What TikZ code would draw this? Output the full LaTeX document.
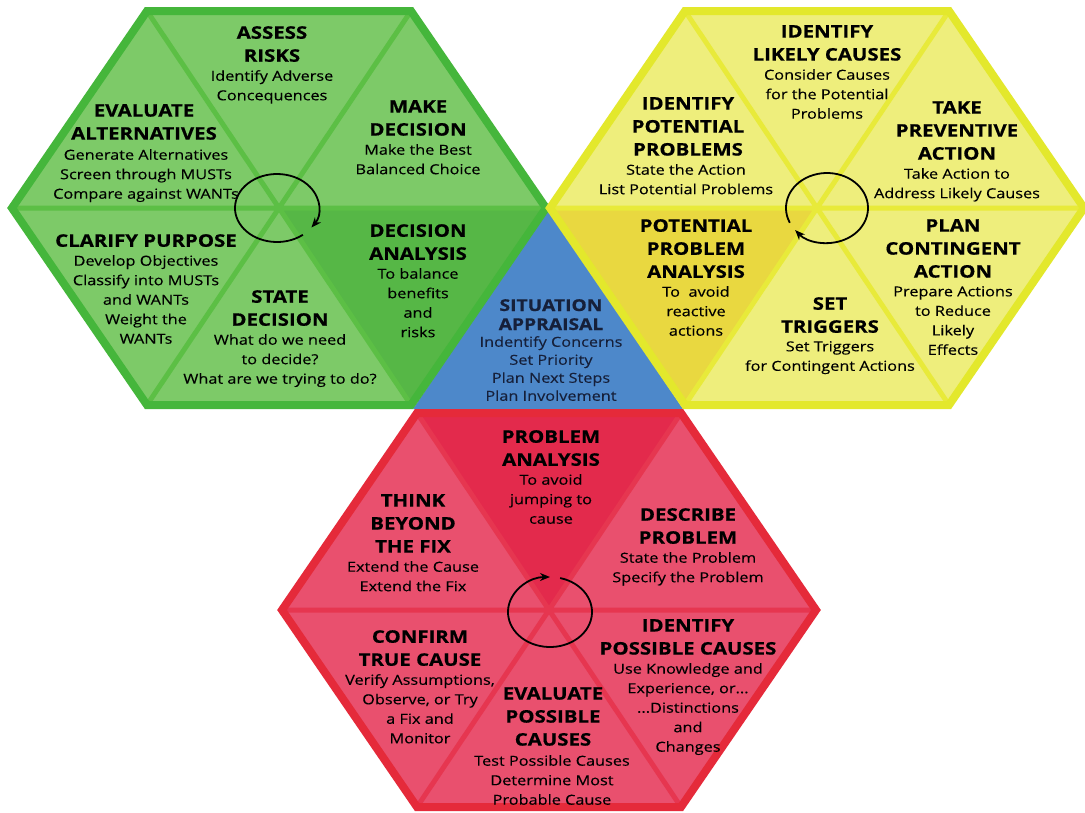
\documentclass[tikz,border=0pt]{standalone}
\usepackage{fontspec}
\setmainfont{Open Sans}[FakeStretch=1.18,FakeBold=0.25]
\newfontfamily\ttlfont{Open Sans}[FakeStretch=1.18,FakeBold=0.6]
\usetikzlibrary{arrows.meta}
\definecolor{gB}{HTML}{45B63B}
\definecolor{gL}{HTML}{7DCA68}
\definecolor{gD}{HTML}{56B746}
\definecolor{gI}{HTML}{5CBF45}
\definecolor{yB}{HTML}{E3E82C}
\definecolor{yL}{HTML}{EEEE7C}
\definecolor{yD}{HTML}{E9D840}
\definecolor{yI}{HTML}{E8EA3A}
\definecolor{rB}{HTML}{E52A3A}
\definecolor{rL}{HTML}{E9506E}
\definecolor{rD}{HTML}{E32A4C}
\definecolor{rI}{HTML}{E63650}
\definecolor{bF}{HTML}{4D88CA}
\definecolor{navy}{HTML}{16203A}
\newcommand\mkhex[3]{%
  \coordinate (#1C) at (#2,#3);
  \coordinate (#10) at ({#2+267},#3);
  \coordinate (#11) at ({#2+132},{#3-197});
  \coordinate (#12) at ({#2-132},{#3-197});
  \coordinate (#13) at ({#2-267},#3);
  \coordinate (#14) at ({#2-132},{#3+197});
  \coordinate (#15) at ({#2+132},{#3+197});
}
\tikzset{
  ttl/.style={anchor=north, align=center, inner sep=0pt, font=\ttlfont\fontsize{17.3}{23}\selectfont\bfseries},
  bdy/.style={anchor=north, align=center, inner sep=0pt, font=\fontsize{13.8}{19.5}\selectfont},
  bttl/.style={ttl, text=navy, font=\ttlfont\fontsize{16.3}{19}\selectfont\bfseries},
  bbdy/.style={bdy, text=navy, font=\fontsize{13.8}{18}\selectfont},
  divider/.style={line width=5pt},
  border/.style={line width=8pt, line join=miter},
  cyc/.style={line width=1.8pt, -{Stealth[length=10pt,width=8pt]}},
}
\begin{document}
\begin{tikzpicture}[x=1pt,y=-1pt]
\useasboundingbox[fill=white] (0,0) rectangle (1085,812);
\mkhex{g}{279}{208}
\mkhex{y}{817}{208}
\mkhex{r}{549}{610}
% blue triangle
\coordinate (bA) at (548,208);
\coordinate (bL) at (413,409);
\coordinate (bR) at (683,409);
\fill[bF] (bA)--(bL)--(bR)--cycle;
% green hexagon
\fill[gL] (g0)--(g1)--(g2)--(g3)--(g4)--(g5)--cycle;
\fill[gD] (gC)--(g0)--(g5)--cycle;
\draw[gI,divider] (g0)--(g3) (g1)--(g4) (g2)--(g5);
\draw[gB,border] (g0)--(g1)--(g2)--(g3)--(g4)--(g5)--cycle;
% yellow hexagon
\fill[yL] (y0)--(y1)--(y2)--(y3)--(y4)--(y5)--cycle;
\fill[yD] (yC)--(y3)--(y4)--cycle;
\draw[yI,divider] (y0)--(y3) (y1)--(y4) (y2)--(y5);
\draw[yB,border] (y0)--(y1)--(y2)--(y3)--(y4)--(y5)--cycle;
% red hexagon
\fill[rL] (r0)--(r1)--(r2)--(r3)--(r4)--(r5)--cycle;
\fill[rD] (rC)--(r1)--(r2)--cycle;
\draw[rI,divider] (r0)--(r3) (r1)--(r4) (r2)--(r5);
\draw[rB,border] (r0)--(r1)--(r2)--(r3)--(r4)--(r5)--cycle;
% cycle arrows
\coordinate (gE) at (277,208);
\coordinate (yE) at (827,208);
\coordinate (rE) at (550,612);
\draw[cyc] (gE) ++(52:42 and 34) arc[start angle=52, end angle=395, x radius=42, y radius=34];
\draw[cyc] (yE) ++(155:41 and 35) arc[start angle=155, end angle=501, x radius=41, y radius=35];
\draw[cyc] (rE) ++(-76:42 and 35) arc[start angle=-76, end angle=270, x radius=42, y radius=35];
% green texts
\node[ttl] (t1) at (272,26) {ASSESS\\RISKS};
\node[bdy] (b1) at (272,70) {Identify Adverse\\Concequences};
\node[ttl] (t2) at (144,104) {EVALUATE\\ALTERNATIVES};
\node[bdy] (b2) at (146,149) {Generate Alternatives\\Screen through MUSTs\\Compare against WANTs};
\node[ttl] (t3) at (418,100) {MAKE\\DECISION};
\node[bdy] (b3) at (418,144) {Make the Best\\Balanced Choice};
\node[ttl] (t4) at (146,234) {CLARIFY PURPOSE};
\node[bdy] (b4) at (146,255) {Develop Objectives\\Classify into MUSTs\\and WANTs\\Weight the\\WANTs};
\node[ttl] (t5) at (280,290) {STATE\\DECISION};
\node[bdy] (b5) at (280,334) {What do we need\\to decide?\\What are we trying to do?};
\node[ttl] (t6) at (418,224) {DECISION\\ANALYSIS};
\node[bdy] (b6) at (418,268) {To balance\\benefits\\and\\risks};
% blue texts
\node[bttl] (t7) at (551,299) {SITUATION\\APPRAISAL};
\node[bbdy] (b7) at (551,336) {Indentify Concerns\\Set Priority\\Plan Next Steps\\Plan Involvement};
% yellow texts
\node[ttl] (t8) at (827,25) {IDENTIFY\\LIKELY CAUSES};
\node[bdy] (b8) at (827,69) {Consider Causes\\for the Potential\\Problems};
\node[ttl] (t9) at (688,97) {IDENTIFY\\POTENTIAL\\PROBLEMS};
\node[bdy] (b9) at (686,164) {State the Action\\List Potential Problems};
\node[ttl] (t10) at (957,101) {TAKE\\PREVENTIVE\\ACTION};
\node[bdy] (b10) at (957,168) {Take Action to\\Address Likely Causes};
\node[ttl] (t11) at (696,219) {POTENTIAL\\PROBLEM\\ANALYSIS};
\node[bdy] (b11) at (696,286) {To\ \ avoid\\reactive\\actions};
\node[ttl] (t12) at (830,297) {SET\\TRIGGERS};
\node[bdy] (b12) at (830,341) {Set Triggers\\for Contingent Actions};
\node[ttl] (t13) at (953,219) {PLAN\\CONTINGENT\\ACTION};
\node[bdy] (b13) at (953,286) {Prepare Actions\\to Reduce\\Likely\\Effects};
% red texts
\node[ttl] (t14) at (551,430) {PROBLEM\\ANALYSIS};
\node[bdy] (b14) at (551,474) {To avoid\\jumping to\\cause};
\node[ttl] (t15) at (413,494) {THINK\\BEYOND\\THE FIX};
\node[bdy] (b15) at (413,561) {Extend the Cause\\Extend the Fix};
\node[ttl] (t16) at (688,508) {DESCRIBE\\PROBLEM};
\node[bdy] (b16) at (688,552) {State the Problem\\Specify the Problem};
\node[ttl] (t17) at (420,630) {CONFIRM\\TRUE CAUSE};
\node[bdy] (b17) at (420,674) {Verify Assumptions,\\Observe, or Try\\a Fix and\\Monitor};
\node[ttl] (t18) at (688,619) {IDENTIFY\\POSSIBLE CAUSES};
\node[bdy] (b18) at (688,663) {Use Knowledge and\\Experience, or...\\...Distinctions\\and\\Changes};
\node[ttl] (t19) at (553,687) {EVALUATE\\POSSIBLE\\CAUSES};
\node[bdy] (b19) at (552,755) {Test Possible Causes\\Determine Most\\Probable Cause};
\end{tikzpicture}
\end{document}
